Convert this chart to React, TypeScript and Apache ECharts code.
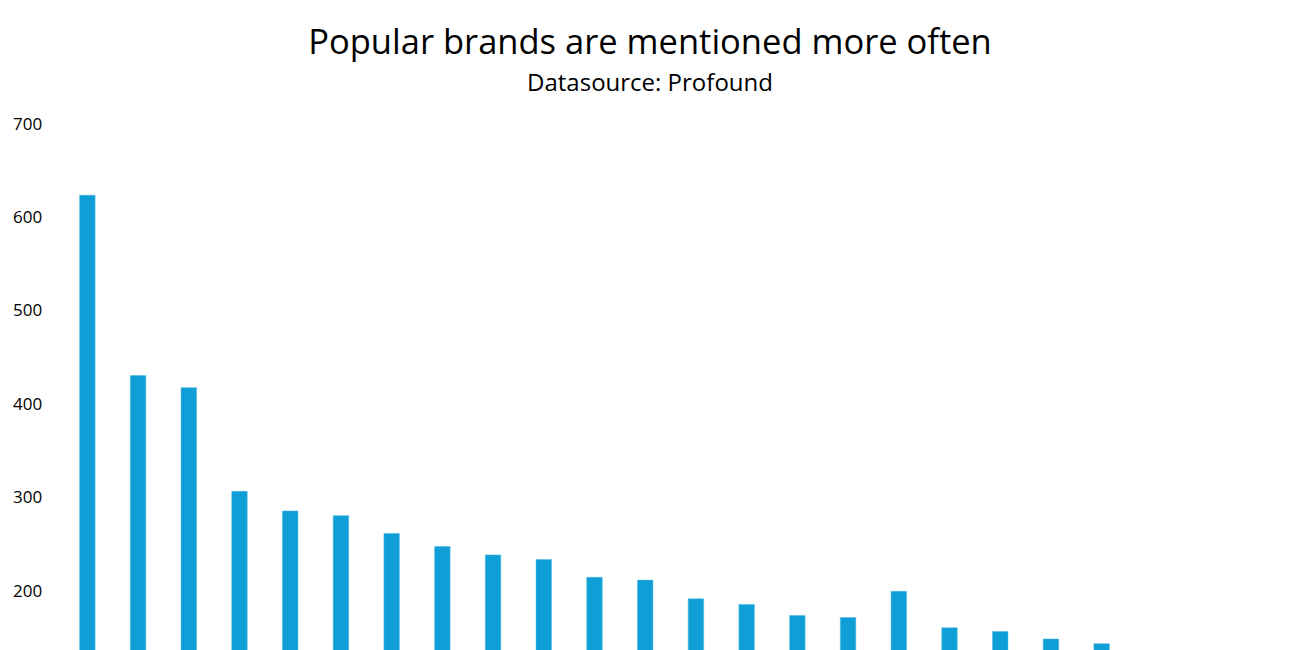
import React, { useEffect, useRef } from "react";
import * as echarts from "echarts";

const categories = [
  "Brand 1", "Brand 2", "Brand 3", "Brand 4", "Brand 5", "Brand 6", "Brand 7",
  "Brand 8", "Brand 9", "Brand 10", "Brand 11", "Brand 12", "Brand 13", "Brand 14",
  "Brand 15", "Brand 16", "Brand 17", "Brand 18", "Brand 19", "Brand 20", "Brand 21",
];
const mentions = [623, 430, 417, 306, 285, 280, 261, 247, 238, 233, 214, 211, 191, 185, 173, 171, 199, 160, 156, 148, 143];
const titleText = "Popular brands are mentioned more often";
const subtitleText = "Datasource: Profound";

export default function App() {
  const ref = useRef<HTMLDivElement>(null);
  useEffect(() => {
    if (!ref.current) return;
    const chart = echarts.init(ref.current, null, { renderer: "svg" });
    chart.setOption({
      animation: false,
      backgroundColor: "#ffffff",
      title: [
        {
          text: titleText,
          left: "center",
          top: 20,
          padding: 0,
          textStyle: { fontFamily: "Open Sans", fontSize: 34.5, lineHeight: 40, fontWeight: "normal", color: "#000" },
        },
        {
          text: subtitleText,
          left: "center",
          top: 67,
          padding: 0,
          textStyle: { fontFamily: "Open Sans", fontSize: 24, lineHeight: 28, fontWeight: "normal", color: "#000" },
        },
      ],
      grid: { left: 62, right: 173, top: 123, bottom: 23 },
      xAxis: {
        type: "category",
        data: categories,
        axisLine: { show: false },
        axisTick: { show: false },
        axisLabel: { show: false },
      },
      yAxis: {
        type: "value",
        min: 0,
        max: 700,
        interval: 100,
        splitLine: { show: false },
        axisLine: { show: false },
        axisTick: { show: false },
        axisLabel: {
          align: "left",
          margin: 49,
          fontFamily: "Open Sans",
          fontSize: 17,
          color: "#000",
          formatter: (v: number) => (v >= 200 ? String(v) : ""),
        },
      },
      series: [
        {
          type: "bar",
          data: mentions,
          barWidth: 16,
          itemStyle: { color: "#0F9ED5", borderColor: "#4DB8E3", borderWidth: 0.5 },
        },
      ],
    });
    return () => chart.dispose();
  }, []);
  return (
    <div style={{ position: "fixed", left: 0, top: 0, width: 1300, height: 650, overflow: "hidden", background: "#fff" }}>
      <div ref={ref} style={{ width: 1300, height: 800 }} />
    </div>
  );
}
